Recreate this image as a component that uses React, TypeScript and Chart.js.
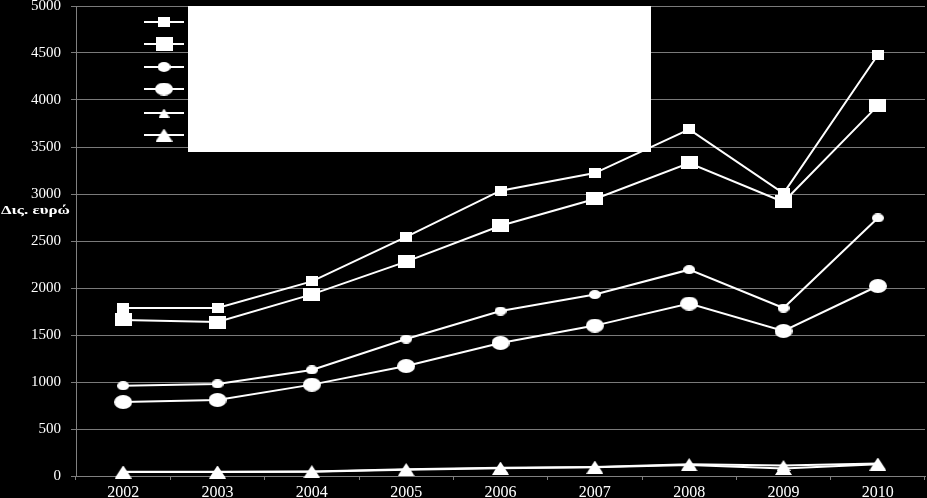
import { useEffect, useRef } from 'react';
import { Chart, registerables } from 'chart.js';

Chart.register(...registerables);

const years = ['2002', '2003', '2004', '2005', '2006', '2007', '2008', '2009', '2010'];

const seriesA = [1787, 1787, 2070, 2543, 3035, 3223, 3688, 3008, 4479];
const seriesB = [1660, 1638, 1932, 2280, 2662, 2947, 3330, 2915, 3940];
const seriesC = [960, 980, 1128, 1457, 1755, 1930, 2195, 1787, 2745];
const seriesD = [787, 809, 972, 1170, 1415, 1600, 1835, 1543, 2021];
const seriesE = [46, 46, 48, 72, 88, 97, 126, 112, 132];
const seriesF = [42, 42, 45, 66, 82, 93, 118, 80, 126];

const yTicks = [0, 500, 1000, 1500, 2000, 2500, 3000, 3500, 4000, 4500, 5000];

const FONT = '"Liberation Serif", "Times New Roman", serif';

// marker images (slightly wider than tall, as in the original)
function makeMarker(shape: 'rect' | 'ellipse' | 'triangle', w: number, h: number) {
  const c = document.createElement('canvas');
  c.width = w;
  c.height = h;
  const g = c.getContext('2d')!;
  g.fillStyle = '#ffffff';
  g.beginPath();
  if (shape === 'rect') {
    g.rect(0, 0, w, h);
  } else if (shape === 'ellipse') {
    g.ellipse(w / 2, h / 2, w / 2, h / 2, 0, 0, Math.PI * 2);
  } else {
    g.moveTo(w / 2, 0);
    g.lineTo(w, h);
    g.lineTo(0, h);
    g.closePath();
  }
  g.fill();
  return c;
}

export default function App() {
  const canvasRef = useRef<HTMLCanvasElement>(null);
  const chartRef = useRef<Chart | null>(null);

  useEffect(() => {
    document.body.style.margin = '0';
    document.body.style.background = '#000';
    if (!canvasRef.current) return;
    const ctx = canvasRef.current.getContext('2d');
    if (!ctx) return;

    if (chartRef.current) {
      chartRef.current.destroy();
    }

    const markers = [
      makeMarker('rect', 12, 10),
      makeMarker('rect', 17, 13),
      makeMarker('ellipse', 12, 9),
      makeMarker('ellipse', 18, 14),
      makeMarker('triangle', 14, 11),
      makeMarker('triangle', 17, 13),
    ];
    const legendMarkers = [
      makeMarker('rect', 12, 10),
      makeMarker('rect', 17, 14),
      makeMarker('ellipse', 13, 10),
      makeMarker('ellipse', 18, 13),
      makeMarker('triangle', 11, 9),
      makeMarker('triangle', 17, 13),
    ];
    const allSeries = [seriesA, seriesB, seriesC, seriesD, seriesE, seriesF];

    const overlay = {
      id: 'overlay',
      afterDraw(chart: Chart) {
        const c = chart.ctx;
        c.save();
        // axis title, a little stretched sideways like the source
        c.fillStyle = '#ffffff';
        c.font = `bold 13px ${FONT}`;
        c.textAlign = 'left';
        c.textBaseline = 'middle';
        c.translate(1, 211);
        c.scale(1.3, 1);
        c.fillText('Δις. ευρώ', 0, 0);
        c.restore();

        c.save();
        // legend box (blank white panel)
        c.fillStyle = '#ffffff';
        c.fillRect(188, 6, 463, 146);
        const rows = [22, 44, 67, 89, 113, 135];
        rows.forEach((y, i) => {
          c.strokeStyle = '#ffffff';
          c.lineWidth = 2;
          c.beginPath();
          c.moveTo(144, y);
          c.lineTo(184, y);
          c.stroke();
          const m = legendMarkers[i];
          c.drawImage(m, 164 - m.width / 2, y - m.height / 2);
        });
        c.restore();
      },
    };

    chartRef.current = new Chart(ctx, {
      type: 'line',
      data: {
        labels: years,
        datasets: allSeries.map((s, i) => ({
          label: `s${i + 1}`,
          data: s,
          borderColor: '#ffffff',
          backgroundColor: '#ffffff',
          borderWidth: 2,
          pointStyle: markers[i],
          pointRadius: 8,
          pointHoverRadius: 8,
          tension: 0,
          clip: false as any,
        })),
      },
      options: {
        responsive: true,
        maintainAspectRatio: false,
        animation: false,
        layout: { autoPadding: false, padding: { top: 6, right: 2, left: 0, bottom: 0 } },
        plugins: {
          legend: { display: false },
          tooltip: { enabled: false },
        },
        scales: {
          x: {
            offset: true,
            grid: {
              display: true,
              drawOnChartArea: false,
              drawTicks: true,
              tickLength: 4,
              color: '#808080',
              offset: true,
            },
            border: { color: '#808080', width: 1 },
            ticks: {
              color: '#ffffff',
              font: { family: FONT, size: 16 },
              padding: 3,
              maxRotation: 0,
            },
            afterFit(scale: any) {
              scale.height = 22;
              scale.paddingLeft = 0;
              scale.paddingRight = 0;
            },
          },
          y: {
            min: 0,
            max: 5000,
            afterBuildTicks(scale: any) {
              scale.ticks = yTicks.map(v => ({ value: v }));
            },
            grid: {
              color: '#7a7a7a',
              lineWidth: 1,
              tickLength: 5,
            },
            border: { color: '#808080', width: 1 },
            ticks: {
              color: '#ffffff',
              font: { family: FONT, size: 15 },
              padding: 10,
              callback: (v: any) => String(v),
            },
            afterFit(scale: any) {
              scale.width = 76;
              scale.paddingTop = 0;
              scale.paddingBottom = 0;
            },
          },
        },
      },
      plugins: [overlay],
    });

    return () => {
      if (chartRef.current) {
        chartRef.current.destroy();
        chartRef.current = null;
      }
    };
  }, []);

  return (
    <div style={{ position: 'relative', width: '927px', height: '498px', background: '#000' }}>
      <canvas ref={canvasRef}></canvas>
    </div>
  );
}
